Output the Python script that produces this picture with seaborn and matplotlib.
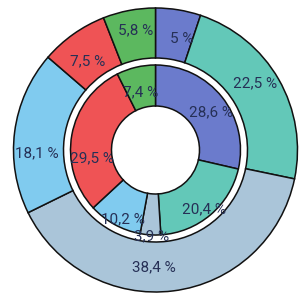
import matplotlib
matplotlib.use("Agg")
import numpy as np
import seaborn as sns
import matplotlib.pyplot as plt
from matplotlib import font_manager

# outer ring / inner ring shares (percent), clockwise from 12 o'clock
outer_values = [5, 22.5, 38.4, 18.1, 7.5, 5.8]
inner_values = [28.6, 20.4, 3.9, 10.2, 29.5, 7.4]

colors = ["#6b7bcc", "#63c8b8", "#aac5d9", "#80cbef", "#ef5355", "#5cb85f"]
text_color = "#263056"

# label placement tweaks: (angle shift in degrees clockwise, radius)
outer_place = [(4, 114), (-4, 120), (8, 117), (-8.7, 119), (-2, 112), (1.5, 121)]
inner_place = [(4, 67), (1, 77), (-1, 86), (-3.5, 77), (-18, 64), (-1, 60)]

names = sorted({f.name for f in font_manager.fontManager.ttflist})
narrow = "Liberation Sans Narrow" if "Liberation Sans Narrow" in names else "Roboto"


def fmt(v):
    return f"{v:g}".replace(".", ",") + " %"


def place_labels(ax, wedges, values, place):
    for w, v, (dth, r) in zip(wedges, values, place):
        mid = np.deg2rad((w.theta1 + w.theta2) / 2 - dth)
        ax.text(r * np.cos(mid), r * np.sin(mid), fmt(v),
                ha="center", va="center", fontsize=11, color=text_color,
                family=[narrow, "DejaVu Sans"])


sns.set_theme(style="white")

fig = plt.figure(figsize=(3.0, 2.96), dpi=100)
ax = fig.add_axes([0, 0, 1, 1])
cx, cy = 155.5, 150
ax.set_aspect("equal")
ax.axis("off")

edge = dict(edgecolor="#111111", linewidth=1.1)
outer_w, _ = ax.pie(outer_values, radius=142, colors=colors, startangle=90,
                    counterclock=False, normalize=True,
                    wedgeprops=dict(width=50, **edge))
inner_w, _ = ax.pie(inner_values, radius=85, colors=colors, startangle=90,
                    counterclock=False, normalize=True,
                    wedgeprops=dict(width=41, **edge))

ax.set_xlim(-cx, 300 - cx)
ax.set_ylim(-(296 - cy), cy)

place_labels(ax, outer_w, outer_values, outer_place)
place_labels(ax, inner_w, inner_values, inner_place)

fig.savefig("out.png", dpi=100)
